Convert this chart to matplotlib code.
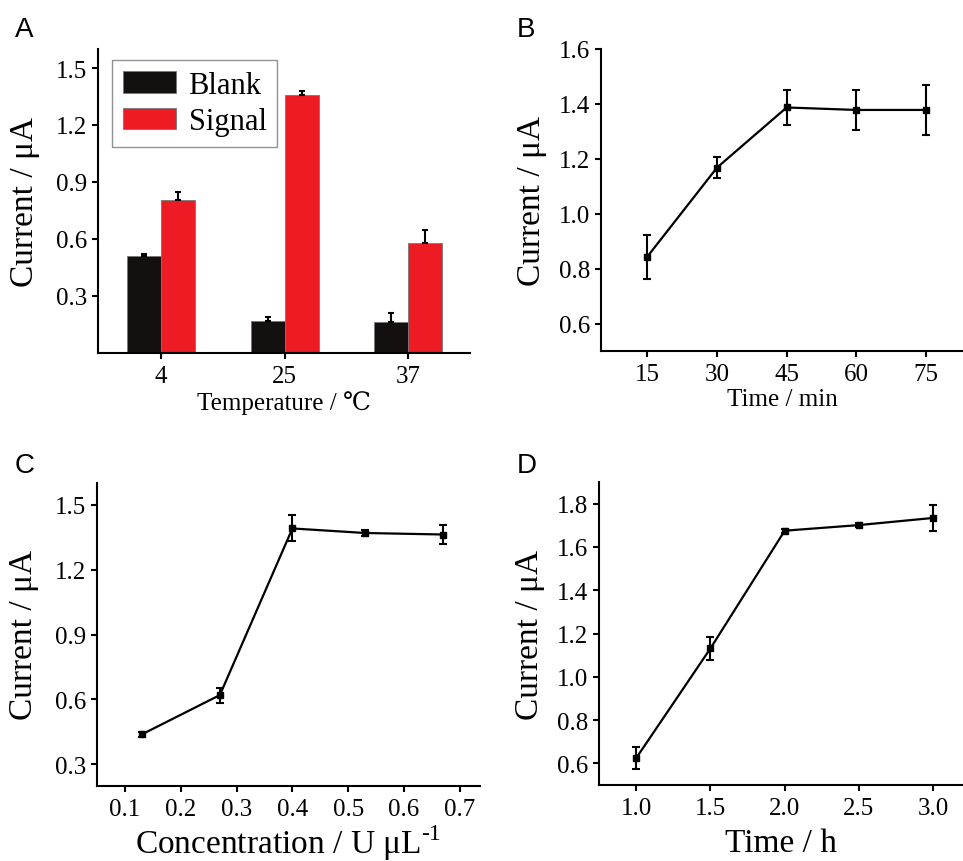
import numpy as np
import matplotlib
matplotlib.use("Agg")
from matplotlib import pyplot as plt

plt.rcParams['font.family'] = ['Liberation Serif', 'DejaVu Serif', 'Noto Sans CJK SC']
plt.rcParams['mathtext.fontset'] = 'custom'
plt.rcParams['mathtext.rm'] = 'Liberation Serif'
plt.rcParams['axes.linewidth'] = 1.5
plt.rcParams['xtick.major.width'] = 1.5
plt.rcParams['ytick.major.width'] = 1.5
plt.rcParams['xtick.major.size'] = 4
plt.rcParams['ytick.major.size'] = 4
plt.rcParams['xtick.major.pad'] = 5
plt.rcParams['xtick.labelsize'] = 18
plt.rcParams['ytick.labelsize'] = 18

# panel A: temperature
temps = ['4', '25', '37']
blank = [0.51, 0.168, 0.163]
blank_err = [0.01, 0.02, 0.05]
signal = [0.805, 1.358, 0.579]
signal_err = [0.04, 0.02, 0.068]

# panel B: incubation time
time_min = [15, 30, 45, 60, 75]
cur_b = [0.844, 1.168, 1.387, 1.378, 1.378]
err_b = [0.08, 0.037, 0.062, 0.072, 0.09]

# panel C: enzyme concentration
conc = [0.13, 0.27, 0.40, 0.53, 0.67]
cur_c = [0.438, 0.62, 1.39, 1.369, 1.362]
err_c = [0.01, 0.035, 0.06, 0.015, 0.043]

# panel D: reaction time
time_h = [1.0, 1.5, 2.0, 2.5, 3.0]
cur_d = [0.624, 1.131, 1.675, 1.701, 1.734]
err_d = [0.052, 0.052, 0.01, 0.01, 0.06]

W, H = 963, 862
fig = plt.figure(figsize=(W / 100, H / 100), dpi=100)


def add_ax(l, t, r, b):
    ax = fig.add_axes([l / W, 1 - b / H, (r - l) / W, (b - t) / H])
    ax.spines['top'].set_visible(False)
    ax.spines['right'].set_visible(False)
    return ax


def line_panel(ax, x, y, e):
    ax.errorbar(x, y, yerr=e, color='black', lw=1.6, marker='s', ms=4.5,
                capsize=2.8, capthick=1.5, elinewidth=1.5)


# A
axA = add_ax(98, 50, 470, 354)
pos = np.arange(len(temps))
bw = 0.275
axA.bar(pos - bw / 2, blank, bw, color='#141010', edgecolor='#777777', lw=0.6,
        label='Blank')
axA.bar(pos + bw / 2, signal, bw, color='#ED1C24', edgecolor='#777777', lw=0.6,
        label='Signal')
axA.errorbar(pos - bw / 2, blank, yerr=[np.zeros(3), blank_err], fmt='none',
             ecolor='black', elinewidth=1.5, capsize=2.5, capthick=1.5)
axA.errorbar(pos + bw / 2, signal, yerr=[np.zeros(3), signal_err], fmt='none',
             ecolor='black', elinewidth=1.5, capsize=2.5, capthick=1.5)
axA.set_xlim(-0.51, 2.5)
axA.set_ylim(0, 1.6)
axA.set_xticks(pos)
axA.set_xticklabels(temps)
axA.set_yticks([0.3, 0.6, 0.9, 1.2, 1.5])
axA.set_yticklabels(['0.3', '0.6', '0.9', '1.2', '1.5'])
axA.set_xlabel('Temperature / ℃', fontsize=18, labelpad=2)
axA.set_ylabel('Current / μA', fontsize=24, labelpad=12)
leg = axA.legend(loc='upper left', bbox_to_anchor=(0.038, 0.964), borderaxespad=0,
                 fontsize=22, fancybox=False, handlelength=1.75, handleheight=0.7,
                 handletextpad=0.4, labelspacing=0.25, borderpad=0.35)
leg.get_frame().set_edgecolor('#777777')
leg.get_frame().set_linewidth(1.0)

# B
axB = add_ax(601, 50, 963, 352)
line_panel(axB, time_min, cur_b, err_b)
axB.set_xlim(5, 83)
axB.set_ylim(0.5, 1.6)
axB.set_xticks(time_min)
axB.set_yticks([0.6, 0.8, 1.0, 1.2, 1.4, 1.6])
axB.set_yticklabels(['0.6', '0.8', '1.0', '1.2', '1.4', '1.6'])
axB.set_xlabel('Time / min', fontsize=18, labelpad=2)
axB.set_ylabel('Current / μA', fontsize=24, labelpad=9)

# C
axC = add_ax(97, 484, 480, 787)
line_panel(axC, conc, cur_c, err_c)
axC.set_xlim(0.05, 0.736)
axC.set_ylim(0.2, 1.6)
axC.set_xticks([0.1, 0.2, 0.3, 0.4, 0.5, 0.6, 0.7])
axC.set_xticklabels(['0.1', '0.2', '0.3', '0.4', '0.5', '0.6', '0.7'])
axC.set_yticks([0.3, 0.6, 0.9, 1.2, 1.5])
axC.set_yticklabels(['0.3', '0.6', '0.9', '1.2', '1.5'])
axC.set_xlabel('Concentration / U μL$^{\\text{-1}}$', fontsize=24, labelpad=1)
axC.set_ylabel('Current / μA', fontsize=24, labelpad=12)

# D
axD = add_ax(599, 483, 963, 786)
line_panel(axD, time_h, cur_d, err_d)
axD.set_xlim(0.75, 3.2)
axD.set_ylim(0.5, 1.9)
axD.set_xticks(time_h)
axD.set_xticklabels(['1.0', '1.5', '2.0', '2.5', '3.0'])
axD.set_yticks([0.6, 0.8, 1.0, 1.2, 1.4, 1.6, 1.8])
axD.set_yticklabels(['0.6', '0.8', '1.0', '1.2', '1.4', '1.6', '1.8'])
axD.set_xlabel('Time / h', fontsize=24, labelpad=6)
axD.set_ylabel('Current / μA', fontsize=24, labelpad=9)

for lab, x, y in [('A', 15, 37), ('B', 517, 37), ('C', 15, 473), ('D', 517, 473)]:
    fig.text(x / W, 1 - y / H, lab, fontsize=20, family='Liberation Sans',
             ha='left', va='baseline')

fig.savefig('out.png', dpi=100)
